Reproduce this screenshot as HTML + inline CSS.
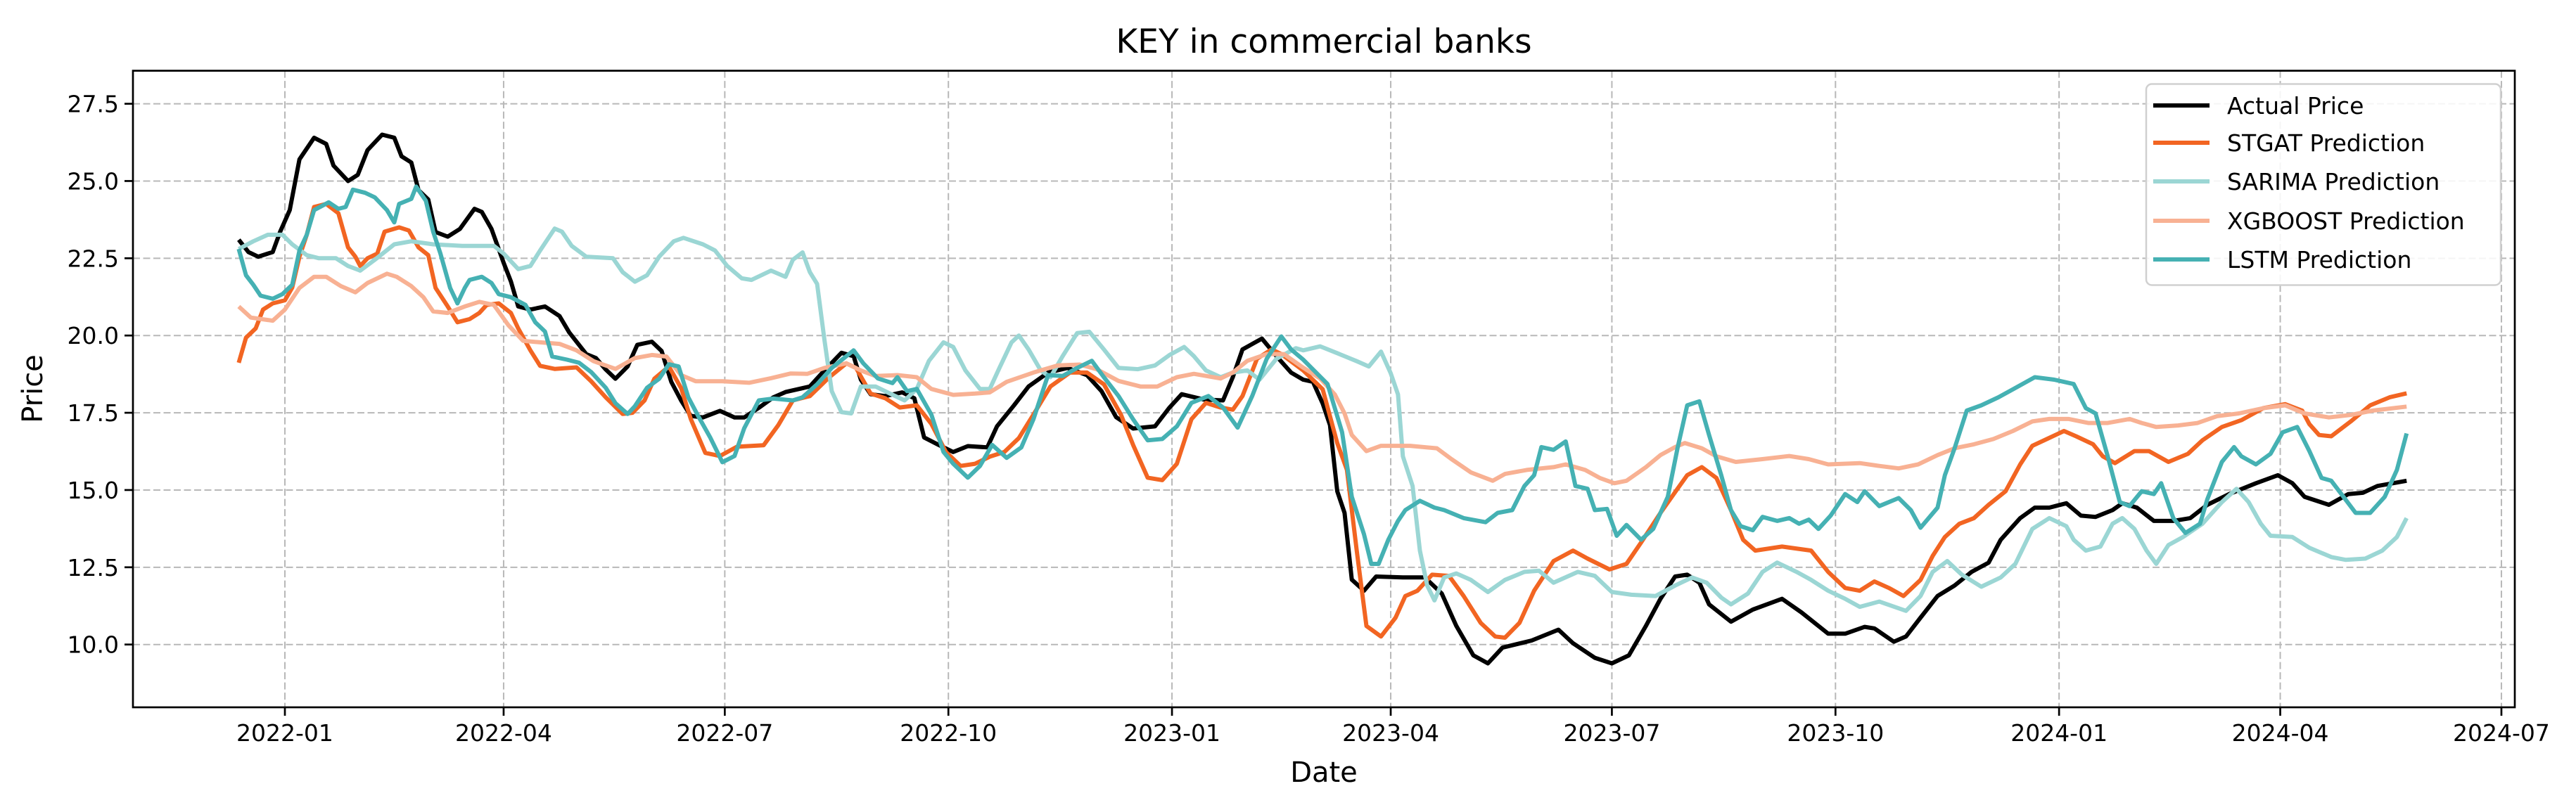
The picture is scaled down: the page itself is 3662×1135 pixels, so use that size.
<!DOCTYPE html>
<html><head><meta charset="utf-8">
<style>
html,body{margin:0;padding:0;background:#fff;}
svg{display:block;font-family:"DejaVu Sans","Liberation Sans",sans-serif;}
</style></head>
<body>
<svg id="chart" width="3662" height="1135" viewBox="0 0 3662 1135" xmlns="http://www.w3.org/2000/svg">
<rect x="0" y="0" width="3662" height="1135" fill="#fff"/>
<text x="1882" y="75" font-size="47" text-anchor="middle" fill="#000">KEY in commercial banks</text>
<g id="grid"></g>
<g id="series"></g>
<rect x="189" y="100.6" width="3386" height="905.4" fill="none" stroke="#000" stroke-width="2.7"/>
<g id="ticks"></g>
<text x="1882" y="1112" font-size="40" text-anchor="middle" fill="#000">Date</text>
<text x="0" y="0" font-size="40" text-anchor="middle" fill="#000" transform="translate(60,553) rotate(-90)">Price</text>
<g id="legend">
<rect x="3051" y="119.5" width="504" height="286" rx="8" fill="#fff" fill-opacity="0.85" stroke="#d0d0d0" stroke-width="2.5"/>
</g>
</svg>
<script>
const xTickDays = [0,90,181,273,365,455,546,638,730,821,912];
const xTickLabels = ["2022-01","2022-04","2022-07","2022-10","2023-01","2023-04","2023-07","2023-10","2024-01","2024-04","2024-07"];
const yTickVals = [10,12.5,15,17.5,20,22.5,25,27.5];
const yTickLabels = ["10.0","12.5","15.0","17.5","20.0","22.5","25.0","27.5"];
const seriesNames = ["Actual Price","STGAT Prediction","SARIMA Prediction","XGBOOST Prediction","LSTM Prediction"];

const actualDays = [-19,-15,-11,-5,-2,2,6,12,17,20,26,30,34,40,45,48,52,55,59,62,67,72,78,81,85,90,93,96,101,107,113,117,124,128,132,136,141,145,151,155,159,163,167,172,179,185,189,195,201,206,216,222,229,234,237,241,247,254,259,263,269,275,281,289,293,300,306,314,322,330,336,342,349,358,364,369,378,386,390,394,402,408,414,419,423,427,430,433,436,439,444,449,460,469,476,482,489,495,501,513,524,530,539,546,553,560,566,572,577,582,586,595,604,616,624,635,642,650,654,662,667,673,680,687,694,701,706,714,720,726,733,739,745,752,756,762,769,777,784,791,800,811,820,826,831,841,849,855,861,873];
const actualVals = [23.1,22.7,22.55,22.7,23.35,24.06,25.7,26.4,26.2,25.5,25.0,25.2,26.0,26.5,26.4,25.8,25.6,24.7,24.4,23.35,23.2,23.45,24.1,24.0,23.45,22.35,21.75,20.94,20.84,20.94,20.63,20.1,19.4,19.27,18.9,18.6,19.0,19.7,19.8,19.5,18.5,17.9,17.4,17.35,17.56,17.35,17.35,17.66,18.0,18.17,18.35,18.87,19.44,19.33,18.57,18.1,18.04,18.16,17.97,16.7,16.46,16.23,16.42,16.38,17.06,17.74,18.35,18.8,18.95,18.72,18.2,17.36,16.99,17.06,17.67,18.1,17.93,17.9,18.65,19.55,19.9,19.33,18.8,18.57,18.5,17.8,17.1,14.96,14.26,12.1,11.74,12.2,12.17,12.17,11.65,10.6,9.65,9.39,9.9,10.13,10.48,10.04,9.57,9.39,9.65,10.6,11.48,12.2,12.26,12.0,11.3,10.74,11.13,11.48,11.04,10.35,10.35,10.57,10.52,10.09,10.26,10.87,11.57,11.91,12.35,12.65,13.39,14.09,14.43,14.43,14.57,14.17,14.13,14.35,14.57,14.43,14.0,14.0,14.09,14.52,14.87,15.22,15.48,15.22,14.78,14.52,14.87,14.91,15.13,15.3];

const stgatDays = [-19,-16,-12,-9,-5,0,3,6,9,12,17,22,26,29,31,34,38,41,47,51,55,59,62,67,71,76,80,83,88,93,96,101,105,111,120,126,132,139,143,148,152,158,163,167,173,179,186,197,203,209,216,224,231,235,241,247,253,260,266,272,278,284,290,296,302,308,315,323,330,337,344,349,355,361,367,373,379,385,390,394,400,406,410,419,427,433,437,441,445,451,457,461,466,472,479,485,492,498,502,508,514,522,530,536,545,552,558,566,573,577,583,589,595,600,605,616,628,635,642,648,654,660,666,673,678,683,689,695,701,708,714,719,725,732,737,744,748,753,761,767,775,783,789,797,805,814,823,830,833,837,842,850,858,866,873];
const stgatVals = [19.12,19.93,20.23,20.84,21.04,21.14,21.55,22.55,23.26,24.16,24.26,23.96,22.85,22.55,22.25,22.5,22.65,23.36,23.5,23.4,22.85,22.6,21.54,20.94,20.43,20.53,20.73,20.99,21.04,20.73,20.23,19.52,19.02,18.92,18.97,18.52,18.0,17.46,17.5,17.9,18.6,19.0,18.3,17.3,16.2,16.1,16.4,16.45,17.1,17.9,18.04,18.65,19.1,18.95,18.12,17.97,17.67,17.74,17.14,16.23,15.78,15.85,16.08,16.23,16.68,17.44,18.35,18.8,18.8,18.42,17.44,16.46,15.4,15.32,15.85,17.29,17.82,17.67,17.6,18.04,19.25,19.55,19.4,18.87,18.26,16.52,15.65,13.04,10.6,10.26,10.87,11.57,11.74,12.26,12.22,11.57,10.7,10.26,10.22,10.7,11.74,12.7,13.04,12.78,12.43,12.61,13.3,14.26,15.04,15.48,15.74,15.39,14.35,13.39,13.04,13.17,13.04,12.35,11.83,11.74,12.04,11.83,11.57,12.09,12.87,13.48,13.91,14.09,14.52,14.96,15.83,16.43,16.65,16.91,16.74,16.48,16.09,15.87,16.26,16.26,15.91,16.17,16.61,17.04,17.26,17.65,17.78,17.57,17.13,16.78,16.74,17.22,17.74,18.0,18.13];

const sarimaDays = [-19,-13,-7,-1,3,9,14,21,26,31,37,45,52,61,73,86,90,96,101,105,111,114,118,124,135,139,144,149,154,160,164,172,177,182,188,192,200,206,209,213,216,219,222,225,229,233,237,243,249,255,260,265,271,275,280,286,290,294,299,302,306,311,315,320,326,331,337,343,351,358,364,370,374,379,385,390,396,401,408,416,419,426,433,441,446,451,455,458,460,464,467,470,473,477,482,488,495,502,510,516,522,532,539,546,554,564,572,579,585,591,595,602,608,614,622,628,635,642,648,656,667,673,678,684,690,698,706,712,719,726,733,736,741,747,752,756,761,766,770,775,781,789,797,803,808,813,817,826,833,842,848,856,863,869,873];
const sarimaVals = [22.8,23.05,23.26,23.26,22.95,22.6,22.5,22.5,22.25,22.1,22.45,22.95,23.05,22.95,22.9,22.9,22.65,22.15,22.25,22.75,23.46,23.36,22.9,22.55,22.5,22.05,21.74,21.95,22.55,23.05,23.16,22.95,22.75,22.25,21.85,21.8,22.1,21.9,22.45,22.69,22.05,21.67,19.86,18.2,17.52,17.48,18.35,18.35,18.12,17.9,18.27,19.18,19.78,19.63,18.87,18.27,18.27,18.95,19.78,20.0,19.55,18.87,18.65,19.33,20.08,20.12,19.55,18.95,18.91,19.03,19.37,19.63,19.33,18.87,18.65,18.8,18.87,18.57,19.25,19.59,19.52,19.65,19.43,19.17,19.0,19.48,18.78,18.09,16.09,15.13,13.04,11.91,11.43,12.17,12.3,12.09,11.7,12.09,12.35,12.39,12.0,12.35,12.22,11.7,11.61,11.57,11.91,12.17,12.0,11.52,11.3,11.65,12.35,12.65,12.35,12.09,11.74,11.48,11.22,11.39,11.09,11.57,12.35,12.7,12.26,11.87,12.17,12.61,13.74,14.09,13.83,13.39,13.04,13.17,13.91,14.09,13.74,13.04,12.61,13.22,13.48,13.91,14.61,15.04,14.61,13.91,13.52,13.48,13.13,12.83,12.74,12.78,13.04,13.48,14.09];

const xgbDays = [-19,-14,-5,0,6,12,17,23,29,34,42,46,52,57,61,67,74,80,86,92,98,105,113,120,127,136,144,151,157,163,169,180,191,200,208,215,222,231,237,243,252,260,266,275,284,290,297,308,318,327,334,343,352,359,367,374,385,390,396,404,411,419,426,432,436,439,445,451,463,474,480,488,497,502,511,522,527,535,541,547,552,560,566,572,576,583,589,597,608,619,627,635,648,656,664,672,680,687,695,703,711,719,726,734,742,750,759,764,770,779,787,795,804,814,823,831,841,850,859,873];
const xgbVals = [20.94,20.58,20.48,20.84,21.54,21.9,21.9,21.6,21.4,21.7,22.0,21.9,21.6,21.24,20.78,20.73,20.94,21.09,20.99,20.33,19.83,19.78,19.73,19.52,19.17,18.92,19.27,19.37,19.32,18.72,18.52,18.52,18.47,18.62,18.77,18.76,18.95,19.1,18.87,18.69,18.72,18.65,18.27,18.08,18.12,18.16,18.5,18.8,19.03,19.06,18.91,18.53,18.35,18.35,18.65,18.76,18.61,18.8,19.18,19.4,19.4,18.96,18.61,18.09,17.48,16.78,16.26,16.43,16.43,16.35,16.0,15.57,15.3,15.52,15.65,15.74,15.83,15.65,15.39,15.22,15.3,15.74,16.13,16.39,16.52,16.35,16.09,15.91,16.0,16.1,16.0,15.83,15.87,15.78,15.7,15.83,16.13,16.35,16.48,16.65,16.91,17.22,17.3,17.3,17.17,17.17,17.3,17.17,17.04,17.09,17.17,17.39,17.48,17.65,17.74,17.48,17.35,17.43,17.57,17.7];

const lstmDays = [-19,-16,-13,-10,-5,-1,3,6,9,12,18,22,25,28,33,37,42,45,47,52,54,58,61,64,68,71,74,76,81,85,88,93,99,103,107,110,116,121,126,132,136,141,144,149,154,158,162,166,170,175,180,185,189,195,201,209,213,219,225,234,238,244,250,252,256,260,266,271,275,281,286,291,297,303,308,314,320,326,332,337,343,349,355,361,367,373,380,386,392,398,404,410,414,419,429,435,439,444,447,450,454,458,461,467,473,477,485,494,499,505,510,514,517,522,527,531,536,539,544,548,552,558,563,569,573,577,582,586,591,595,599,604,608,614,619,623,627,631,636,642,647,650,656,664,669,673,680,683,687,692,698,705,711,720,728,736,741,745,750,755,759,764,769,772,777,782,788,791,797,802,805,811,817,822,828,833,838,842,847,852,858,864,869,873];
const lstmVals = [22.8,21.95,21.64,21.29,21.19,21.34,21.64,22.75,23.26,24.06,24.31,24.1,24.16,24.72,24.62,24.47,24.06,23.66,24.26,24.42,24.82,24.36,23.36,22.65,21.54,21.04,21.54,21.8,21.9,21.7,21.34,21.24,20.99,20.43,20.13,19.32,19.22,19.12,18.82,18.31,17.81,17.46,17.71,18.31,18.6,19.07,19.0,18.0,17.4,16.7,15.9,16.1,17.0,17.9,17.96,17.9,18.0,18.42,18.95,19.52,19.1,18.61,18.46,18.65,18.2,18.27,17.44,16.23,15.85,15.4,15.78,16.46,16.04,16.38,17.29,18.72,18.69,18.95,19.18,18.65,18.04,17.29,16.61,16.65,17.06,17.82,18.04,17.67,17.02,18.04,19.25,19.97,19.55,19.22,18.43,16.87,14.78,13.57,12.61,12.61,13.39,14.0,14.35,14.65,14.43,14.35,14.09,13.96,14.26,14.35,15.13,15.48,16.39,16.3,16.57,15.13,15.04,14.35,14.39,13.52,13.87,13.39,13.74,14.78,16.35,17.74,17.87,16.78,15.48,14.35,13.83,13.7,14.13,14.0,14.09,13.91,14.04,13.74,14.17,14.87,14.61,14.96,14.48,14.74,14.35,13.78,14.43,15.48,16.35,17.57,17.74,18.0,18.26,18.65,18.57,18.43,17.65,17.48,16.09,14.61,14.48,14.96,14.87,15.22,14.09,13.61,13.91,14.7,15.91,16.39,16.09,15.83,16.17,16.87,17.04,16.26,15.39,15.3,14.78,14.26,14.26,14.78,15.65,16.83];

const NS = "http://www.w3.org/2000/svg";
const PL = 189, PT = 100.6, PR = 3575, PB = 1006;
function xScale(day){ return 405 + day * 3.455; }
function yScale(v){ return 916.7 - (v - 10) * 43.95; }
function mk(tag, attrs){ const e = document.createElementNS(NS, tag); for (const k in attrs) e.setAttribute(k, attrs[k]); return e; }

const grid = document.getElementById('grid');
const ticks = document.getElementById('ticks');
xTickDays.forEach((d, i) => {
  const x = xScale(d);
  const gl = mk('line', {x1:x, x2:x, y1:PT, y2:PB, stroke:'#b8b8b8', 'stroke-width':2, 'stroke-dasharray':'10,4.5'});
  
  
  grid.appendChild(gl);
  const t = mk('line', {x1:x, x2:x, y1:PB, y2:PB+12, stroke:'#000', 'stroke-width':2.7});
  
  
  ticks.appendChild(t);
  const lb = mk('text', {x:x, y:PB+48, 'font-size':33, 'text-anchor':'middle', fill:'#000'});
  lb.textContent = xTickLabels[i];
  
  
  ticks.appendChild(lb);
});
yTickVals.forEach((v, i) => {
  const y = yScale(v);
  const gl = mk('line', {x1:PL, x2:PR, y1:y, y2:y, stroke:'#b8b8b8', 'stroke-width':2, 'stroke-dasharray':'10,4.5'});
  
  
  grid.appendChild(gl);
  const t = mk('line', {x1:PL-12, x2:PL, y1:y, y2:y, stroke:'#000', 'stroke-width':2.7});
  
  
  ticks.appendChild(t);
  const lb = mk('text', {x:PL-20, y:y+12, 'font-size':33, 'text-anchor':'end', fill:'#000'});
  lb.textContent = yTickLabels[i];
  
  
  ticks.appendChild(lb);
});

const colors = ['#000000','#f26522','#9bd6d4','#f8b193','#45b1b3'];
const allDays = [actualDays, stgatDays, sarimaDays, xgbDays, lstmDays];
const allVals = [actualVals, stgatVals, sarimaVals, xgbVals, lstmVals];
const lineNames = ['actual-price-line','stgat-line','sarima-line','xgboost-line','lstm-line'];
const seriesG = document.getElementById('series');
allDays.forEach((days, s) => {
  const vals = allVals[s];
  let d = '';
  for (let i = 0; i < days.length; i++) d += (i ? 'L' : 'M') + xScale(days[i]).toFixed(1) + ',' + yScale(vals[i]).toFixed(1);
  const p = mk('path', {d:d, fill:'none', stroke:colors[s], 'stroke-width':6, 'stroke-linejoin':'round', 'stroke-linecap':'butt'});
  
  
  seriesG.appendChild(p);
});

const legend = document.getElementById('legend');
const legY = [150, 203, 258, 314, 369];
seriesNames.forEach((n, i) => {
  const g = mk('g', {});
  
  
  const l = mk('line', {x1:3061, x2:3141, y1:legY[i], y2:legY[i], stroke:colors[i], 'stroke-width':6});
  
  
  g.appendChild(l);
  const t = mk('text', {x:3166, y:legY[i]+12, 'font-size':33, fill:'#000'});
  t.textContent = n;
  
  
  g.appendChild(t);
  legend.appendChild(g);
});
</script>
</body></html>
